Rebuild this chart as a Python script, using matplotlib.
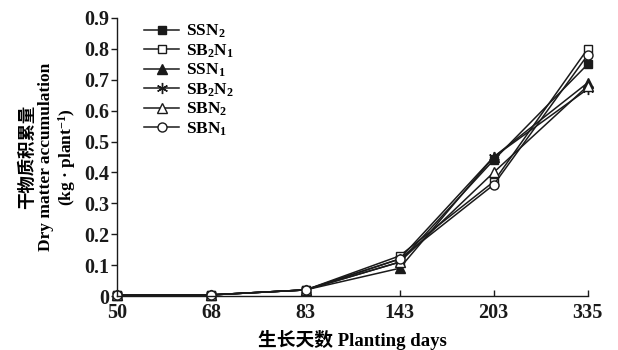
import matplotlib
matplotlib.use("Agg")
import matplotlib.pyplot as plt

plt.rcParams['font.family'] = ['Liberation Serif', 'Noto Sans CJK SC']
plt.rcParams['font.weight'] = 'bold'
plt.rcParams['mathtext.fontset'] = 'custom'
plt.rcParams['mathtext.rm'] = 'Liberation Serif:bold'
plt.rcParams['mathtext.it'] = 'Liberation Serif:bold'
plt.rcParams['mathtext.bf'] = 'Liberation Serif:bold'

days = ['50', '68', '83', '143', '203', '335']
SSN2 = [0.003, 0.004, 0.02, 0.11, 0.44, 0.75]
SB2N1 = [0.003, 0.004, 0.02, 0.13, 0.37, 0.80]
SSN1 = [0.003, 0.004, 0.02, 0.09, 0.45, 0.69]
SB2N2 = [0.003, 0.004, 0.02, 0.12, 0.45, 0.67]
SBN2 = [0.003, 0.004, 0.02, 0.11, 0.40, 0.68]
SBN1 = [0.003, 0.004, 0.02, 0.12, 0.36, 0.78]
yticks = [0, 0.1, 0.2, 0.3, 0.4, 0.5, 0.6, 0.7, 0.8, 0.9]
ytick_labels = ['0', '0.1', '0.2', '0.3', '0.4', '0.5', '0.6', '0.7', '0.8', '0.9']

series = [
    (r'SSN$_2$', SSN2, dict(marker='s', mfc='#1a1a1a', ms=6)),
    (r'SB$_2$N$_1$', SB2N1, dict(marker='s', mfc='white', ms=6)),
    (r'SSN$_1$', SSN1, dict(marker='^', mfc='#1a1a1a', ms=7)),
    (r'SB$_2$N$_2$', SB2N2, dict(marker=(6, 2, 0), mfc='#1a1a1a', ms=8)),
    (r'SBN$_2$', SBN2, dict(marker='^', mfc='white', ms=6.5)),
    (r'SBN$_1$', SBN1, dict(marker='o', mfc='white', ms=6.5)),
]

fig = plt.figure(figsize=(6.18, 3.5), dpi=100)
ax = fig.add_axes([0.19, 0.154, 0.761, 0.795])
x = list(range(len(days)))
for name, vals, st in series:
    ax.plot(x, vals, color='#1a1a1a', lw=1.1, mec='#1a1a1a', mew=1.0,
            label=name, clip_on=False, **st)

ax.set_xlim(0, len(days) - 1)
ax.set_ylim(0, 0.9)
ax.set_xticks(x)
ax.set_xticklabels(days)
ax.set_yticks(yticks)
ax.set_yticklabels(ytick_labels)
for s in ['top', 'right']:
    ax.spines[s].set_visible(False)
for s in ['left', 'bottom']:
    ax.spines[s].set_linewidth(1.0)
    ax.spines[s].set_color('#1a1a1a')
ax.tick_params(axis='both', labelsize=14.5, colors='#1a1a1a', length=4, width=1.0)
ax.tick_params(axis='x', direction='in', pad=5)
ax.tick_params(axis='y', direction='out', pad=2)

ax.set_xlabel('生长天数 Planting days', fontsize=13.5, fontweight='bold', labelpad=5)
ax.set_ylabel('干物质积累量\nDry matter accumulation\n(kg · plant$^{-1}$)',
              fontsize=12.5, fontweight='bold', linespacing=1.15, labelpad=4)

leg = ax.legend(loc='upper left', bbox_to_anchor=(0.035, 1.02), frameon=False,
                fontsize=12.5, handlelength=2.0, labelspacing=0.12,
                handletextpad=0.4, borderaxespad=0.2)

fig.savefig('out.png', dpi=100)
